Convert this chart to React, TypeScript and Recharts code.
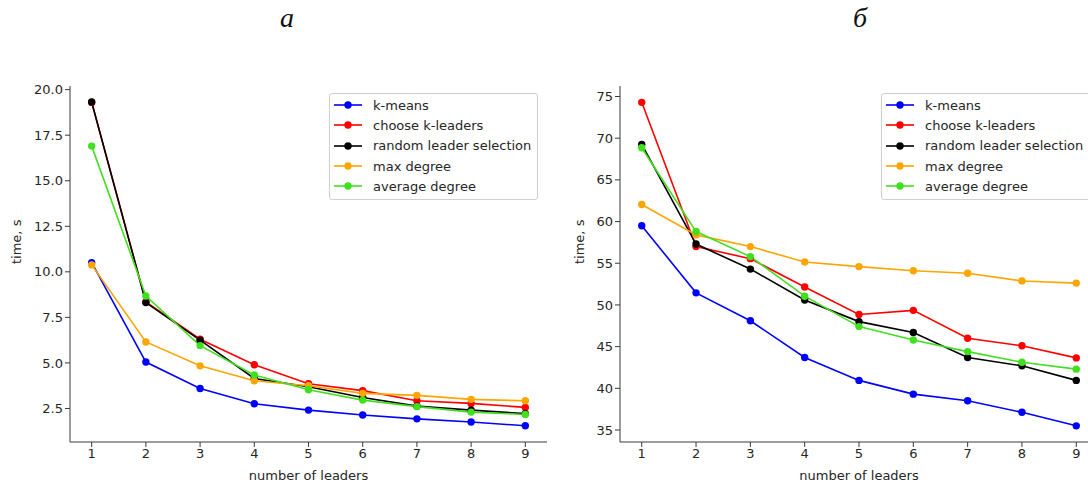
import React from 'react';
import { LineChart, Line, XAxis, YAxis } from 'recharts';

const leaders = [1, 2, 3, 4, 5, 6, 7, 8, 9];
const seriesNames = ['k-means', 'choose k-leaders', 'random leader selection', 'max degree', 'average degree'];
const seriesKeys = ['kmeans', 'choose', 'random', 'maxdeg', 'avgdeg'];
const seriesColors = ['#0000ff', '#ff0000', '#000000', '#ffa500', '#40e01f'];

// Chart а
const aKmeans = [10.5, 5.05, 3.6, 2.76, 2.41, 2.14, 1.93, 1.76, 1.55];
const aChoose = [19.3, 8.35, 6.3, 4.9, 3.86, 3.48, 2.92, 2.78, 2.56];
const aRandom = [19.32, 8.31, 6.25, 4.15, 3.69, 3.1, 2.63, 2.41, 2.22];
const aMaxDeg = [10.38, 6.15, 4.84, 4.02, 3.75, 3.33, 3.22, 3.0, 2.92];
const aAvgDeg = [16.9, 8.67, 5.95, 4.34, 3.53, 2.96, 2.6, 2.3, 2.17];
const aTicks = [2.5, 5.0, 7.5, 10.0, 12.5, 15.0, 17.5, 20.0];

// Chart б
const bKmeans = [59.5, 51.45, 48.1, 43.7, 40.95, 39.3, 38.5, 37.12, 35.5];
const bChoose = [74.3, 57.0, 55.55, 52.15, 48.85, 49.35, 46.0, 45.1, 43.65];
const bRandom = [69.25, 57.3, 54.3, 50.6, 48.0, 46.7, 43.7, 42.7, 40.95];
const bMaxDeg = [62.05, 58.4, 57.0, 55.15, 54.6, 54.1, 53.8, 52.88, 52.62];
const bAvgDeg = [68.85, 58.8, 55.8, 51.05, 47.4, 45.8, 44.4, 43.12, 42.3];
const bTicks = [35, 40, 45, 50, 55, 60, 65, 70, 75];

const xTicks = [1, 2, 3, 4, 5, 6, 7, 8, 9];

function buildRows(cols: number[][]) {
  return leaders.map((x, i) => {
    const row: Record<string, number> = { x };
    seriesKeys.forEach((k, j) => {
      row[k] = cols[j][i];
    });
    return row;
  });
}

const aData = buildRows([aKmeans, aChoose, aRandom, aMaxDeg, aAvgDeg]);
const bData = buildRows([bKmeans, bChoose, bRandom, bMaxDeg, bAvgDeg]);

const FONT = 'DejaVu Sans, sans-serif';
const TXT = '#262626';
const FRAME = '#3a3a3a';

const LegendBox = ({ left }: { left: number }) => (
  <div
    style={{
      position: 'absolute',
      left,
      top: 93,
      background: 'rgba(255,255,255,0.85)',
      border: '1px solid #d0d0d0',
      borderRadius: 3,
      padding: '1px 6px 3px 4px',
      fontFamily: FONT,
      fontSize: 13,
      color: TXT,
      boxSizing: 'border-box',
    }}
  >
    {seriesNames.map((n, i) => (
      <div key={n} style={{ display: 'flex', alignItems: 'center', height: 20.3, whiteSpace: 'nowrap' }}>
        <svg width={28} height={10} style={{ marginRight: 11, flex: 'none' }}>
          <line x1={0} y1={5} x2={28} y2={5} stroke={seriesColors[i]} strokeWidth={1.6} />
          <circle cx={14} cy={5} r={3.7} fill={seriesColors[i]} />
        </svg>
        <span>{n}</span>
      </div>
    ))}
  </div>
);

type PanelProps = {
  data: Record<string, number>[];
  yDomain: [number, number];
  yTicks: number[];
  yFmt: (v: number) => string;
  yAxisWidth: number;
  marginLeft: number;
  marginRight: number;
  labelX: number;
};

const Panel = ({ data, yDomain, yTicks, yFmt, yAxisWidth, marginLeft, marginRight, labelX }: PanelProps) => (
  <LineChart
    width={560}
    height={482}
    data={data}
    margin={{ top: 86, right: marginRight, bottom: 0, left: marginLeft }}
  >
    <XAxis
      xAxisId="top"
      orientation="top"
      dataKey="x"
      type="number"
      domain={[0.6, 9.4]}
      allowDataOverflow
      height={0}
      tick={false}
      tickLine={false}
      axisLine={{ stroke: FRAME, strokeWidth: 1 }}
    />
    <YAxis
      yAxisId="right"
      orientation="right"
      type="number"
      domain={yDomain}
      allowDataOverflow
      width={0}
      tick={false}
      tickLine={false}
      axisLine={{ stroke: FRAME, strokeWidth: 1 }}
    />
    <XAxis
      dataKey="x"
      type="number"
      domain={[0.6, 9.4]}
      ticks={xTicks}
      allowDataOverflow
      height={40}
      tickSize={5}
      tickLine={{ stroke: FRAME }}
      axisLine={{ stroke: FRAME, strokeWidth: 1 }}
      tick={{ fill: TXT, fontSize: 13, fontFamily: FONT }}
      label={{ value: 'number of leaders', position: 'insideBottom', offset: 2, fill: TXT, fontSize: 13, fontFamily: FONT }}
    />
    <YAxis
      type="number"
      domain={yDomain}
      ticks={yTicks}
      allowDataOverflow
      width={yAxisWidth}
      tickSize={5}
      tickFormatter={yFmt}
      tickLine={{ stroke: FRAME }}
      axisLine={{ stroke: FRAME, strokeWidth: 1 }}
      tick={{ fill: TXT, fontSize: 13, fontFamily: FONT }}
      label={{ value: 'time, s', angle: -90, position: 'insideLeft', offset: 0, dx: labelX, fill: TXT, fontSize: 13, fontFamily: FONT }}
    />
    {seriesKeys.map((k, i) => (
      <Line
        key={k}
        dataKey={k}
        name={seriesNames[i]}
        stroke={seriesColors[i]}
        strokeWidth={1.6}
        dot={{ r: 3.7, fill: seriesColors[i], stroke: seriesColors[i], strokeWidth: 0 }}
        activeDot={false}
        isAnimationActive={false}
      />
    ))}
  </LineChart>
);

const titleStyle: React.CSSProperties = {
  position: 'absolute',
  top: 2,
  fontFamily: 'Liberation Serif, serif',
  fontStyle: 'italic',
  fontSize: 28,
  color: '#111',
};

export default function App() {
  return (
    <div
      style={{
        position: 'absolute',
        left: 0,
        top: 0,
        width: 1088,
        height: 482,
        background: '#ffffff',
        overflow: 'hidden',
      }}
    >
      <div style={{ ...titleStyle, left: 280 }}>а</div>
      <div style={{ ...titleStyle, left: 853 }}>б</div>
      <div style={{ position: 'absolute', left: 0, top: 0 }}>
        <Panel
          data={aData}
          yDomain={[0.66, 20.2]}
          yTicks={aTicks}
          yFmt={(v) => v.toFixed(1)}
          yAxisWidth={60}
          marginLeft={10}
          marginRight={13}
          labelX={6}
        />
      </div>
      <LegendBox left={329} />
      <div style={{ position: 'absolute', left: 560, top: 0 }}>
        <Panel
          data={bData}
          yDomain={[33.56, 76.26]}
          yTicks={bTicks}
          yFmt={(v) => String(v)}
          yAxisWidth={50}
          marginLeft={10}
          marginRight={22}
          labelX={9}
        />
      </div>
      <LegendBox left={881} />
    </div>
  );
}
